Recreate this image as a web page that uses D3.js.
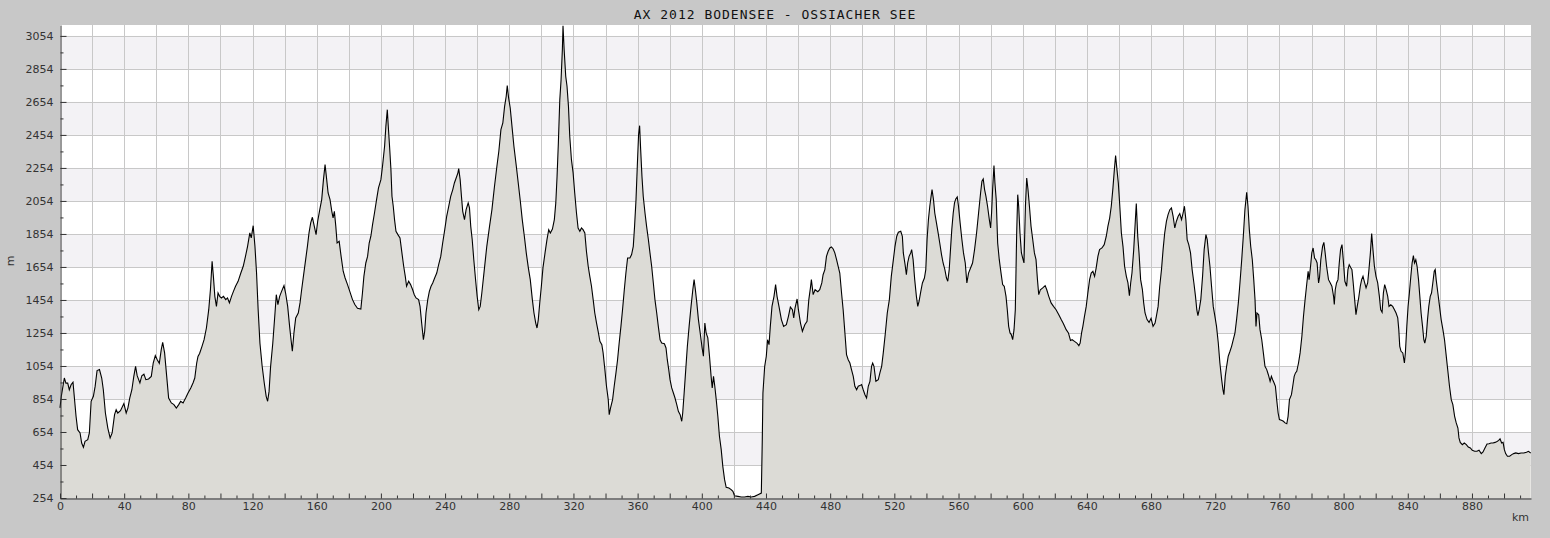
<!DOCTYPE html>
<html>
<head>
<meta charset="utf-8">
<script src="https://cdn.jsdelivr.net/npm/d3@7"></script>
<style>
  html, body { margin: 0; padding: 0; background: #c8c8c8; }
  svg { display: block; }
  .tick text { font-family: "DejaVu Sans", sans-serif; font-size: 11px; fill: #333; }
</style>
</head>
<body>
<svg id="chart" width="1550" height="538"></svg>
<script>
// ---- data ----
const chartTitle = "AX 2012 BODENSEE - OSSIACHER SEE";
const xLabel = "km";
const yLabel = "m";
const yTicks = [254, 454, 654, 854, 1054, 1254, 1454, 1654, 1854, 2054, 2254, 2454, 2654, 2854, 3054];
const xTickLabels = [0, 40, 80, 120, 160, 200, 240, 280, 320, 360, 400, 440, 480, 520, 560, 600, 640, 680, 720, 760, 800, 840, 880];

const km = [
0,0.8,2.7,3.7,4.8,5.8,6.9,8.1,10,11,12.5,13.5,14.6,15.6,17.3,18.3,19.4,20.8,21.9,23.1,24.6,26,27,28.3,29.8,31.25,32.5,34,35,36,37.7,39.8,41.25,42.3,43.5,44.8,46,47.1,48.1,49.8,51,52.3,53.5,55.2,56.9,58.1,59.4,60.6,61.9,63.1,64,65.2,66.5,67.7,69.4,71,72.5,74,75.2,76.7,78.3,79.8,81.5,82.9,84,85.2,86,87,88.5,89.8,91.25,92.7,93.75,94.8,95.6,96.5,97.5,98.5,99.5,100.6,101.9,103.3,104.4,105.6,106.9,108.1,109.4,111,112.7,114.2,115.6,116.9,118.3,119.2,120.4,121.5,122.5,123.5,124.6,126,127.3,128.5,129.4,130.3,131.25,132.6,134,134.8,135.8,136.9,138.1,139.6,140.6,141.9,143.1,144,144.8,145.8,146.9,148.5,149.6,150.6,151.7,153.1,154.2,155.2,156.25,157.3,158.5,159.6,160.6,161.9,163.1,164.2,165.2,166,167.1,168.3,169.4,170.2,171,171.9,172.7,174,175.2,176.5,177.7,179.2,180.6,182.3,183.75,185.4,187.5,188.5,189.4,190.6,191.7,192.7,193.75,194.8,196,197.3,198.5,200,201,202.3,203.1,204,204.6,205.4,206.25,206.9,207.7,208.5,209.4,210.6,211.9,213.1,214.2,215.2,216,217.3,218.5,219.8,220.8,221.9,223.5,224.4,225.4,226.5,227.3,228.1,229.2,230.2,231.25,232.3,233.5,234.8,236,237.3,238.5,239.8,241,242.3,243.5,244.8,245.8,246.9,248,248.5,249.4,250.2,251,252.1,253.1,254.4,255.2,256,256.9,257.9,259,260,261,261.9,262.9,264,266,267.7,269.2,270.8,272.3,273.5,274.8,276,277.1,278.1,278.75,279.6,280.6,281.7,282.9,284.4,285.6,286.9,288.1,289.4,290.6,291.9,293.1,294.4,295.4,296.5,297.3,298.1,299,300,301,302.3,303.5,304.6,305.6,306.9,308.1,309,309.8,310.6,311.5,312.3,313.1,313.5,314.2,315.2,316,316.9,317.7,318.75,319.8,320.8,321.9,322.9,324,325,326,327.1,328.1,329.2,330.2,331.25,332.3,333.3,334.4,335.4,336.5,337.7,338.5,339.6,340.6,341.7,342.3,343.1,344.4,345.4,346.5,347.5,348.5,349.6,350.6,351.7,352.7,353.75,355.2,356.25,357.3,358.1,359,359.8,360.6,361.25,361.9,362.7,363.5,364.6,365.6,366.7,367.7,368.75,369.8,370.8,371.9,372.9,374,375,376.7,377.7,378.5,379.4,380.2,381.25,382.3,383.3,384.4,385.4,386.5,387.5,388.1,389,390,391,392.1,393.3,394.4,395.2,396,396.9,397.9,399,400.2,401,401.9,402.7,403.75,404.8,405.8,406.5,407.3,408.1,409,410,411,412.1,413.1,414.2,415.2,416.9,418.3,419.4,420.4,422.5,424.6,426.7,428.75,430.8,432.9,435,437.1,437.7,438.1,439.2,440.2,441,441.9,442.7,443.75,445,446,446.9,448.1,449.6,451,452.7,454,455.2,456.5,457.3,458.1,459.4,460.2,461.5,462.7,464.2,465.6,466.7,467.7,468.3,469.4,470.6,472.3,473.5,474.8,475.6,476.7,477.7,478.75,479.8,480.8,481.9,482.9,484,485,486,487.1,488.1,489.2,490.2,491.25,492.3,493.3,494.4,495.4,496.5,497.5,498.5,499.6,500.6,501.7,502.7,503.75,504.8,505.8,506.5,507.3,508.5,510,511,512.1,513.1,514.4,515.6,516.9,518.1,519.4,520.4,521.5,522.5,524,525,525.6,526.7,527.5,528.3,529.2,530.2,530.8,531.7,532.7,533.75,534.6,535.4,536.5,537.5,538.75,539.6,540.4,541.25,542.1,542.9,543.5,544.4,545.2,546.25,547.3,548.3,549.4,550.4,551.5,552.5,553.3,554.2,555,555.8,556.7,557.5,558.3,559.2,560,561,562.1,563.1,564.2,565.2,566.25,567.5,568.75,570,571.25,572.5,573.75,574.6,575.4,576.25,577.1,578.1,579.2,580,580.6,581.25,582.1,582.7,583.5,584.4,585.4,586.5,587.5,588.5,589.6,590.4,591.25,592.1,592.9,593.75,594.6,595.4,596.25,596.9,597.5,598.3,599.2,600,600.8,601.7,602.5,603.3,604.2,605.2,606.25,607.3,608.3,609.2,610,611,612.5,614,615,616.25,617.7,619.2,620.8,622.5,624,625.4,627.1,628.5,629.8,630.8,632.3,633.75,635,635.8,636.7,637.5,638.5,639.6,640.6,641.7,642.7,643.75,644.8,645.8,646.9,647.9,649.4,650.8,652.1,653.1,654.2,655.2,656.25,657.1,657.9,658.75,659.6,660.4,661.5,662.5,663.5,664.6,665.6,666.5,667.3,668.1,669.2,670,670.8,671.7,672.5,673.5,674.6,675.4,676.25,677.5,678.75,680,681.25,682.5,683.3,684.4,685.4,686.5,687.5,688.5,689.6,690.6,691.7,692.7,693.75,694.8,695.8,696.9,697.9,699,700,700.8,701.7,702.5,703.5,704.6,705.6,706.7,707.7,708.5,709.2,710,711,712.1,713.1,714.2,715,715.8,716.7,717.7,718.75,719.8,720.8,721.9,722.9,724,724.8,725.4,726.25,727.1,728.1,729.2,730.2,731.25,732.3,733.3,734.4,735.4,736.5,737.5,738.5,739.6,740.4,741.25,742.1,743.1,744,744.8,745.4,746,747.1,747.9,749,750,751,752.1,753.1,754.2,755,755.8,756.7,757.5,758.3,759.2,760,761.25,762.5,763.5,764.6,765.4,766.25,767.5,768.3,769.2,770,770.8,771.9,772.9,774,775,776,777.1,777.9,778.5,779.4,780.2,781,781.9,782.7,783.5,784.4,785,785.8,786.9,787.7,788.5,789.4,790.6,791.7,792.7,793.75,794.2,794.8,795.6,796.5,797.3,798.1,799,799.8,800.8,801.9,802.7,803.5,804.6,805.2,806,806.9,807.7,808.5,809.4,810.4,811.25,812.1,812.9,814,815,815.8,816.7,817.5,818.3,819.2,820.2,821.25,822.3,823.1,824,824.8,825.6,826.5,827.5,828.3,829.4,830.6,831.7,832.7,833.75,834.4,835,835.8,836.9,837.9,838.5,839.4,840.2,841,841.9,842.7,843.5,844.2,845,845.8,846.7,847.5,848.3,849.2,850,850.6,851.5,852.3,853.1,854,854.8,855.6,856.5,857.1,857.7,858.75,859.8,860.8,861.9,862.9,864,865,866,867.1,868.1,869.2,870.2,871.25,871.9,872.7,874,875.2,876.5,877.7,879,880.2,881.7,883.1,884.4,885.8,886.9,888.1,889.4,890.6,891.9,893.1,894.4,895.6,896.7,897.5,898.5,899.4,900.2,901,902.1,903.5,904.8,906,907.3,909,910.6,912.3,914,915.2,916.6
];
const elevation = [
800,870,981,950,950,910,940,955,749,668,648,587,561,597,607,648,840,870,930,1026,1032,981,910,769,678,618,648,759,789,769,783,826,769,799,860,910,991,1052,995,951,995,1005,971,975,991,1072,1117,1092,1070,1153,1197,1133,991,860,830,820,799,820,840,830,860,890,921,951,981,1072,1112,1130,1173,1213,1284,1395,1516,1688,1597,1476,1415,1496,1476,1466,1476,1456,1466,1436,1476,1506,1537,1567,1617,1658,1718,1779,1860,1830,1904,1779,1617,1395,1193,1052,951,870,840,900,1050,1190,1375,1486,1426,1476,1506,1541,1496,1415,1294,1213,1143,1254,1345,1375,1436,1516,1597,1698,1779,1860,1921,1955,1900,1850,1931,2001,2062,2183,2274,2203,2102,2062,1991,1951,1991,1900,1799,1809,1718,1628,1587,1547,1506,1456,1426,1403,1399,1496,1597,1678,1718,1799,1840,1910,1981,2062,2133,2183,2264,2385,2506,2607,2506,2385,2244,2082,2022,1941,1870,1850,1830,1739,1658,1597,1537,1567,1547,1516,1486,1466,1456,1415,1314,1213,1264,1375,1456,1506,1537,1557,1587,1617,1668,1718,1799,1880,1961,2022,2082,2123,2163,2193,2224,2250,2183,2082,1991,1941,2001,2042,2012,1900,1820,1698,1577,1476,1395,1415,1496,1597,1779,1900,2001,2143,2264,2355,2486,2527,2627,2688,2753,2678,2617,2506,2385,2264,2163,2052,1941,1840,1739,1648,1577,1456,1375,1314,1284,1335,1436,1537,1648,1739,1820,1880,1860,1884,1941,2042,2203,2405,2668,2789,2971,3116,2971,2809,2749,2627,2446,2304,2224,2102,1981,1890,1870,1890,1880,1860,1749,1658,1597,1537,1456,1375,1314,1264,1203,1183,1133,1032,931,850,759,799,850,931,1012,1092,1193,1294,1395,1516,1617,1708,1708,1729,1779,1900,2062,2264,2456,2510,2365,2203,2082,1981,1900,1820,1739,1658,1557,1456,1375,1294,1213,1193,1189,1163,1092,1032,971,921,890,860,820,779,759,719,769,890,1032,1173,1294,1415,1516,1577,1516,1436,1335,1254,1163,1113,1314,1254,1224,1113,991,921,991,931,850,749,628,547,446,365,319,315,305,294,268,264,260,260,264,260,264,274,284,607,890,1052,1113,1213,1183,1294,1415,1476,1547,1476,1415,1335,1294,1304,1355,1411,1395,1345,1405,1460,1395,1314,1264,1304,1325,1456,1527,1577,1486,1516,1504,1516,1557,1607,1638,1718,1749,1769,1775,1763,1739,1698,1658,1617,1496,1395,1254,1123,1092,1072,1032,991,931,910,931,935,941,910,880,860,931,961,1052,1072,1052,961,971,1012,1052,1133,1254,1375,1456,1597,1698,1779,1840,1864,1870,1840,1739,1668,1607,1678,1718,1739,1759,1698,1577,1476,1415,1446,1506,1557,1587,1638,1820,1941,2022,2082,2123,2062,1981,1921,1860,1799,1729,1678,1638,1587,1567,1638,1759,1880,1981,2042,2066,2078,2022,1921,1820,1739,1678,1557,1617,1648,1678,1759,1860,1981,2102,2173,2187,2123,2082,2022,1941,1890,1981,2123,2268,2163,2062,1799,1698,1617,1547,1537,1476,1395,1294,1254,1244,1213,1274,1395,1860,2092,2022,1860,1739,1708,1678,2022,2193,2123,2022,1900,1820,1739,1698,1577,1486,1516,1527,1541,1516,1476,1436,1415,1395,1365,1335,1310,1274,1254,1209,1213,1203,1193,1177,1193,1254,1294,1355,1415,1496,1577,1617,1628,1597,1648,1719,1759,1769,1789,1840,1900,1950,2022,2133,2240,2329,2244,2163,2042,1860,1779,1658,1597,1557,1480,1557,1617,1759,1900,2038,1840,1739,1577,1517,1436,1375,1335,1318,1343,1294,1314,1355,1415,1537,1638,1759,1860,1931,1971,2001,2012,1961,1890,1931,1961,1977,1941,1981,2022,1941,1820,1789,1739,1638,1557,1476,1395,1359,1395,1456,1597,1759,1850,1820,1739,1658,1537,1415,1355,1294,1193,1072,971,910,880,991,1052,1113,1143,1173,1213,1254,1335,1436,1557,1698,1840,2001,2106,2022,1880,1779,1698,1577,1456,1294,1375,1365,1274,1213,1133,1052,1032,1001,961,991,971,951,931,850,769,729,725,719,709,704,749,850,880,931,991,1012,1022,1072,1133,1234,1355,1456,1557,1628,1577,1658,1739,1769,1708,1698,1678,1557,1590,1698,1779,1803,1739,1658,1577,1557,1537,1476,1426,1516,1557,1577,1678,1759,1789,1698,1567,1537,1638,1668,1648,1638,1557,1456,1365,1415,1466,1537,1577,1597,1567,1527,1557,1638,1739,1856,1759,1658,1597,1557,1476,1395,1379,1496,1547,1516,1476,1415,1425,1415,1395,1375,1345,1274,1173,1143,1133,1072,1133,1294,1415,1496,1597,1678,1723,1678,1698,1658,1577,1476,1375,1294,1213,1193,1234,1335,1415,1476,1496,1557,1628,1638,1577,1496,1415,1335,1274,1213,1112,1022,931,850,820,749,709,678,618,591,577,587,577,563,557,543,537,537,543,523,533,557,581,583,587,587,591,597,603,612,587,591,547,523,507,507,517,523,527,523,527,527,531,537,527
];

// ---- layout ----
const plotLeft = 60, plotRight = 1531, plotTop = 25, plotBottom = 498;
const xMax = 916.8, yMin = 254, yMax = 3120;

const svg = d3.select("#chart");
const x = d3.scaleLinear().domain([0, xMax]).range([plotLeft, plotRight]);
const y = d3.scaleLinear().domain([yMin, yMax]).range([plotBottom, plotTop]);

// plot background
svg.append("rect").attr("x", plotLeft).attr("y", plotTop)
  .attr("width", plotRight - plotLeft).attr("height", plotBottom - plotTop).attr("fill", "#ffffff");

// alternating bands
const bandStarts = yTicks.filter((v, i) => i % 2 === 1 && v + 200 <= yMax);
svg.append("g").selectAll("rect").data(bandStarts).join("rect")
  .attr("x", plotLeft).attr("width", plotRight - plotLeft)
  .attr("y", d => y(d + 200)).attr("height", d => y(d) - y(d + 200))
  .attr("fill", "#f3f2f5");

// grid
const gridColor = "#c8c8c8";
svg.append("g").selectAll("line").data(yTicks.slice(1)).join("line")
  .attr("x1", plotLeft).attr("x2", plotRight)
  .attr("y1", d => Math.round(y(d)) + 0.5).attr("y2", d => Math.round(y(d)) + 0.5)
  .attr("stroke", gridColor).attr("stroke-width", 1);
const vGrid = d3.range(20, xMax, 20);
svg.append("g").selectAll("line").data(vGrid).join("line")
  .attr("x1", d => Math.round(x(d)) + 0.5).attr("x2", d => Math.round(x(d)) + 0.5)
  .attr("y1", plotTop).attr("y2", plotBottom)
  .attr("stroke", gridColor).attr("stroke-width", 1);

// profile
const n = Math.min(km.length, elevation.length);
const pts = d3.range(n).map(i => [km[i], elevation[i]]);
const area = d3.area().x(d => x(d[0])).y0(y(yMin)).y1(d => y(d[1]));
const line = d3.line().x(d => x(d[0])).y(d => y(d[1]));
svg.append("path").datum(pts).attr("d", area).attr("fill", "#dcdbd6");
svg.append("path").datum(pts).attr("d", line)
  .attr("fill", "none").attr("stroke", "#000").attr("stroke-width", 1.1)
  .attr("stroke-linejoin", "miter");

// axes
const axisColor = "#333";
const yAxis = d3.axisLeft(y).tickValues(yTicks).tickSizeInner(-6).tickSizeOuter(0).tickPadding(7)
  .tickFormat(d3.format("d"));
const gy = svg.append("g").attr("transform", `translate(${plotLeft + 0.5},0)`).call(yAxis);
const yMinor = d3.axisLeft(y).tickValues(yTicks.map(v => v + 100).filter(v => v < yMax))
  .tickSize(-3).tickFormat("");
const gym = svg.append("g").attr("transform", `translate(${plotLeft + 0.5},0)`).call(yMinor);
gym.select(".domain").remove();

const xAxis = d3.axisBottom(x).tickValues(d3.range(0, xMax, 20)).tickSizeInner(-5).tickSizeOuter(0)
  .tickPadding(4).tickFormat(d => xTickLabels.includes(d) ? d : "");
const gx = svg.append("g").attr("transform", `translate(0,${plotBottom + 0.5})`).call(xAxis);
const xMinor = d3.axisBottom(x).tickValues(d3.range(10, xMax, 20)).tickSize(-3).tickFormat("");
const gxm = svg.append("g").attr("transform", `translate(0,${plotBottom + 0.5})`).call(xMinor);
gxm.select(".domain").remove();

[gy, gym, gx, gxm].forEach(g => {
  g.selectAll("line").attr("stroke", axisColor);
  g.selectAll(".domain").attr("stroke", axisColor);
});

// labels
svg.append("text").attr("x", 775).attr("y", 18.5).attr("text-anchor", "middle")
  .attr("font-family", "'DejaVu Sans Mono', monospace").attr("font-size", 13)
  .attr("letter-spacing", "1px").attr("fill", "#111").text(chartTitle);
svg.append("text").attr("x", 1529).attr("y", 521).attr("text-anchor", "end")
  .attr("font-family", "'DejaVu Sans', sans-serif").attr("font-size", 11)
  .attr("fill", "#333").text(xLabel);
svg.append("text").attr("transform", "translate(14,261) rotate(-90)").attr("text-anchor", "middle")
  .attr("font-family", "'DejaVu Sans', sans-serif").attr("font-size", 11)
  .attr("fill", "#333").text(yLabel);
</script>
</body>
</html>
